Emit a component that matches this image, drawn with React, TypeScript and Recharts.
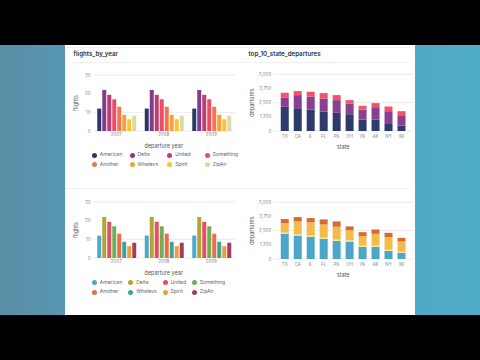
import { Bar, BarChart, CartesianGrid, XAxis, YAxis } from "recharts";

const FONT = "Inter, 'Noto Sans', sans-serif";

// flights_by_year
const years = ["2007", "2008", "2009"];
const carriers = ["American", "Delta", "United", "Something", "Another", "Whatevs", "Spirit", "ZipAir"];
const american = [12, 12, 12];
const delta = [22, 22, 22];
const united = [19.4, 19.4, 19.4];
const something = [17, 17, 17];
const another = [13, 13, 13];
const whatevs = [8.7, 8.7, 8.7];
const spirit = [6.3, 6.3, 6.3];
const zipAir = [8.2, 8.2, 8.2];
const flightTicks = [0, 10, 20, 30];

const warmCarrierColors = ["#2c3766", "#7f3c8d", "#c13c6c", "#ea4d67", "#f0774d", "#f5a03a", "#f8c435", "#d8dba2"];
const coolCarrierColors = ["#4ea8cc", "#b5a33a", "#e0525f", "#72ad58", "#e76f45", "#3ea594", "#f19c3b", "#a43b61"];

// top_10_state_departures
const states = ["TX", "CA", "IL", "FL", "PA", "OH", "IN", "AK", "NY", "WI"];
const topBase = [2130, 2010, 1890, 1715, 1600, 1480, 1005, 1005, 620, 475];
const topMiddle = [829, 1156, 1154, 1155, 1122, 946, 888, 1095, 1126, 917];
const topUpper = [414, 355, 415, 473, 444, 296, 326, 356, 414, 356];

const bottomBase = [2220, 2070, 1950, 1775, 1600, 1540, 1065, 1065, 710, 530];
const bottomThin = [110, 110, 110, 110, 110, 110, 110, 110, 110, 110];
const bottomMiddle = [836, 1134, 1165, 1162, 1130, 894, 837, 1044, 1103, 898];
const bottomUpper = [355, 384, 385, 444, 474, 326, 355, 385, 385, 326];
const departureTicks = [0, 1250, 2500, 3750, 5000];

const carrierSeries = [american, delta, united, something, another, whatevs, spirit, zipAir];

const flightRows = years.map((year, i) => {
  const row: Record<string, string | number> = { year };
  carriers.forEach((c, j) => {
    row[c] = carrierSeries[j][i];
  });
  return row;
});

function stateRows(series: number[][]) {
  return states.map((state, i) => {
    const row: Record<string, string | number> = { state };
    series.forEach((s, j) => {
      row[`s${j}`] = s[i];
    });
    return row;
  });
}

const topStateRows = stateRows([topBase, topMiddle, topUpper]);
const bottomStateRows = stateRows([bottomBase, bottomThin, bottomMiddle, bottomUpper]);

const tickStyle = { fontSize: 4.5, fill: "#888" };
const axisTitle = { fontSize: 5.5, fill: "#555", fontWeight: 400 };

function CarrierLegend({ top, colors, fixed }: { top: number; colors: string[]; fixed: boolean }) {
  return (
    <div
      style={{
        position: "absolute",
        left: 92,
        top,
        display: "grid",
        gridTemplateColumns: fixed ? "repeat(4, 37.7px)" : "repeat(4, auto)",
        columnGap: fixed ? 0 : 6,
        fontSize: 5,
        color: "#666",
        lineHeight: "9.7px",
      }}
    >
      {carriers.map((c, i) => (
        <div key={c} style={{ display: "flex", alignItems: "center", height: 9.7, whiteSpace: "nowrap" }}>
          <span
            style={{
              width: 5,
              height: 5,
              borderRadius: "50%",
              background: colors[i],
              marginRight: 2.8,
              flexShrink: 0,
            }}
          />
          {c}
        </div>
      ))}
    </div>
  );
}

function FlightsChart({ top, colors, fixedLegend }: { top: number; colors: string[]; fixedLegend: boolean }) {
  return (
    <>
      <div style={{ position: "absolute", left: 65, top }}>
        <BarChart
          width={180}
          height={89}
          data={flightRows}
          margin={{ top: 13, right: 10, bottom: 0, left: 0 }}
          barCategoryGap="10%"
          barGap={1}
        >
          <CartesianGrid vertical={false} stroke="#ebebeb" />
          <XAxis
            dataKey="year"
            height={20}
            tickSize={0}
            tickMargin={1.5}
            axisLine={false}
            tickLine={false}
            tick={tickStyle}
            label={{ value: "departure year", position: "insideBottom", offset: 3, ...axisTitle }}
          />
          <YAxis
            width={27.5}
            domain={[0, 30]}
            ticks={flightTicks}
            tickSize={0}
            tickMargin={2}
            axisLine={false}
            tickLine={false}
            tick={tickStyle}
            label={{ value: "flights", angle: -90, position: "center", dx: -2.75, ...axisTitle }}
          />
          {carriers.map((c, i) => (
            <Bar key={c} dataKey={c} fill={colors[i]} isAnimationActive={false} />
          ))}
        </BarChart>
      </div>
      <CarrierLegend top={top + 88.2} colors={colors} fixed={fixedLegend} />
    </>
  );
}

function DeparturesChart({
  top,
  data,
  colors,
}: {
  top: number;
  data: Record<string, string | number>[];
  colors: string[];
}) {
  return (
    <div style={{ position: "absolute", left: 240, top }}>
      <BarChart
        width={180}
        height={89}
        data={data}
        margin={{ top: 12.3, right: 7, bottom: 0, left: 0 }}
        barCategoryGap="19%"
      >
        <CartesianGrid vertical={false} stroke="#ebebeb" />
        <XAxis
          dataKey="state"
          height={20}
          padding={{ left: 5, right: 5 }}
          tickSize={0}
          tickMargin={3.5}
          axisLine={false}
          tickLine={false}
          tick={tickStyle}
          label={{ value: "state", position: "insideBottom", offset: 2, ...axisTitle }}
        />
        <YAxis
          width={33.3}
          domain={[0, 5000]}
          ticks={departureTicks}
          tickFormatter={(v) => Number(v).toLocaleString("en-US")}
          tickSize={0}
          tickMargin={2}
          axisLine={false}
          tickLine={false}
          tick={tickStyle}
          label={{ value: "departures", angle: -90, position: "center", dx: -5, ...axisTitle }}
        />
        {colors.map((color, i) => (
          <Bar key={i} dataKey={`s${i}`} stackId="a" fill={color} isAnimationActive={false} />
        ))}
      </BarChart>
    </div>
  );
}

export default function App() {
  return (
    <div
      style={{
        position: "fixed",
        left: 0,
        top: 0,
        width: 480,
        height: 360,
        background: "#000",
        overflow: "hidden",
        fontFamily: FONT,
      }}
    >
      <div
        style={{
          position: "absolute",
          left: 0,
          top: 45,
          width: 480,
          height: 270,
          background: "linear-gradient(90deg, #5b8ea6 0%, #5797b2 14%, #4fadca 100%)",
        }}
      />
      <div style={{ position: "absolute", left: 65, top: 45, width: 350, height: 270, background: "#fff" }} />
      <div style={{ position: "absolute", left: 67, top: 47, width: 343, height: 1, background: "#eeeeee" }} />
      <div style={{ position: "absolute", left: 73, top: 61.5, width: 337, height: 1, background: "#efefef" }} />
      <div style={{ position: "absolute", left: 65, top: 188, width: 345, height: 1, background: "#eeeeee" }} />

      <div style={{ position: "absolute", left: 73.5, top: 50, fontSize: 6.2, fontWeight: 600, color: "#333" }}>
        flights_by_year
      </div>
      <div style={{ position: "absolute", left: 248.5, top: 50, fontSize: 6.2, fontWeight: 600, color: "#333" }}>
        top_10_state_departures
      </div>

      <FlightsChart top={62} colors={warmCarrierColors} fixedLegend />
      <DeparturesChart top={62} data={topStateRows} colors={["#2d3a6b", "#8b3f91", "#ef5468"]} />

      <FlightsChart top={189.3} colors={coolCarrierColors} fixedLegend={false} />
      <DeparturesChart
        top={189.6}
        data={bottomStateRows}
        colors={["#4ba6c9", "#f3e3a0", "#f3bb4c", "#d46c34"]}
      />
    </div>
  );
}
